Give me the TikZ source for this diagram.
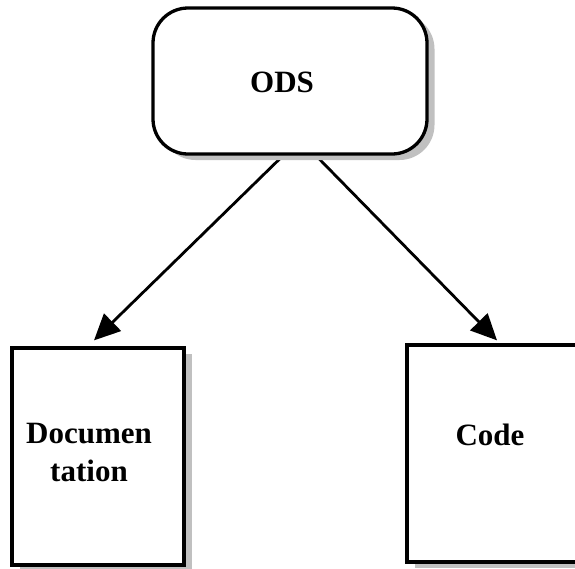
\documentclass[tikz,border=0pt]{standalone}
\usepackage{fontspec}
\setmainfont{Liberation Serif}
\usetikzlibrary{shadows,arrows.meta,backgrounds}
\definecolor{shadowgray}{HTML}{C0C0C0}
\newcommand{\placetext}[3]{\raisebox{#2}[0pt][0pt]{\hspace*{#1}#3}}
\tikzset{
  boxbase/.style={draw=black, line width=3.3pt, fill=white,
    drop shadow={shadow xshift=7.5pt, shadow yshift=-6pt, fill=shadowgray, opacity=1},
    font=\fontsize{31}{38}\selectfont\bfseries, align=center, inner sep=0pt},
  odsbox/.style={boxbase, rounded corners=35pt, minimum width=274pt, minimum height=146pt},
  docbox/.style={boxbase, minimum width=172pt, minimum height=217pt},
  arrowline/.style={line width=2.8pt, -{Triangle[length=26pt,width=24pt]}}
}
\begin{document}
\begin{tikzpicture}[x=1pt,y=1pt]
\useasboundingbox (0,0) rectangle (575,-568);
\clip (0,0) rectangle (575,-568);
\node[odsbox] (ods) at (290,-81) {\placetext{-16pt}{-11pt}{ODS}};
\node[docbox] (doc) at (98,-456.5) {\placetext{-18pt}{-24.5pt}{\begin{tabular}[b]{@{}c@{}}Documen\\tation\end{tabular}}};
\node[docbox] (code) at (493,-453.5) {\placetext{-6pt}{8.5pt}{Code}};
\begin{pgfonlayer}{background}
\draw[arrowline] ([xshift=-7pt]ods.south) -- ([xshift=-4pt,yshift=6pt]doc.north);
\draw[arrowline] ([xshift=26pt]ods.south) -- ([xshift=4pt,yshift=3pt]code.north);
\end{pgfonlayer}
\end{tikzpicture}
\end{document}
